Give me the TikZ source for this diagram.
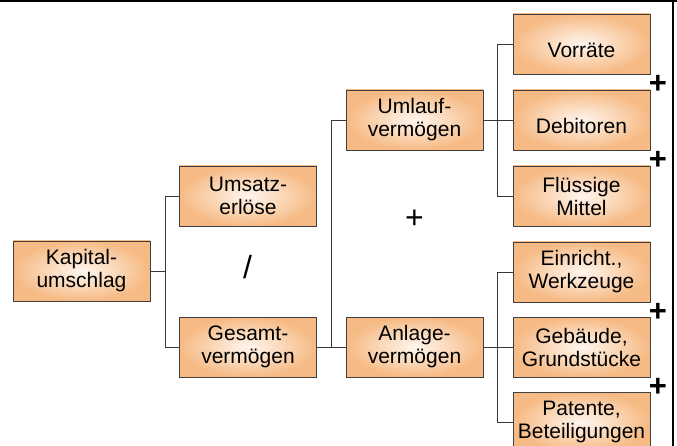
\documentclass[tikz,border=0pt]{standalone}
\usepackage{fontspec}
\setmainfont{Liberation Sans}
\usetikzlibrary{calc}
\definecolor{boxedge}{HTML}{F6BA84}
\definecolor{boxmid}{HTML}{FFF6EE}
\definecolor{linegray}{HTML}{383838}
\tikzset{
  kbox/.style={shade, inner color=boxmid, outer color=boxedge, draw=black!75,
    line width=0.8pt, minimum width=137pt, minimum height=60pt, inner sep=0pt,
    align=center, font=\fontsize{21}{23}\selectfont},
  oneline/.style={text height=28pt, text depth=0pt},
  link/.style={draw=linegray, line width=0.9pt},
  sign/.style={font=\fontsize{31}{33}\selectfont\bfseries},
  bigsign/.style={font=\fontsize{32}{34}\selectfont}
}
\begin{document}
\begin{tikzpicture}[x=1pt,y=-1pt]
  \useasboundingbox (0,0) rectangle (677,446);
  \draw[line width=1.5pt] (0,1) -- (677,1);
  \draw[line width=1.5pt] (673,0) -- (673,446);
  % level 1 and 2
  \node[kbox] (kap) at (81.5,271) {Kapital-\\umschlag};
  \node[kbox] (ums) at (248,196) {Umsatz-\\erlöse};
  \node[kbox] (ges) at (248,347) {Gesamt-\\vermögen};
  \node[kbox] (uml) at (414.5,120) {Umlauf-\\vermögen};
  \node[kbox] (anl) at (414.5,347) {Anlage-\\vermögen};
  % right column
  \node[kbox,oneline] (vor) at (581.5,44) {Vorräte};
  \node[kbox,oneline] (deb) at (581.5,120) {Debitoren};
  \node[kbox] (flu) at (581.5,196) {Flüssige\\Mittel};
  \node[kbox] (ein) at (581.5,272) {Einricht.,\\Werkzeuge};
  \node[kbox] (geb) at (581.5,347) {Gebäude,\\Grundstücke};
  \node[kbox] (pat) at (581.5,422) {Patente,\\Beteiligungen};
  % connectors
  \draw[link] (kap.east) -- ++(15,0) coordinate (k1);
  \draw[link] (ums.west) -| (k1) |- (ges.west);
  \draw[link] (ges.east) -- (anl.west);
  \coordinate (g1) at ($(ges.east)!0.5!(anl.west)$);
  \draw[link] (uml.west) -| (g1);
  \draw[link] (uml.east) -- ++(14.5,0) coordinate (u1);
  \draw[link] (vor.west) -| (u1) |- (flu.west);
  \draw[link] (u1) -- (deb.west);
  \draw[link] (anl.east) -- ++(14.5,0) coordinate (a1);
  \draw[link] (ein.west) -| (a1) |- (pat.west);
  \draw[link] (a1) -- (geb.west);
  % operators
  \node[bigsign] (op1) at (247.5,267) {/};
  \node[bigsign] (op2) at (414.5,219) {+};
  \foreach \y [count=\i] in {84,160,312,387} {
    \node[sign] (p\i) at (658,\y) {+};
  }
\end{tikzpicture}
\end{document}
